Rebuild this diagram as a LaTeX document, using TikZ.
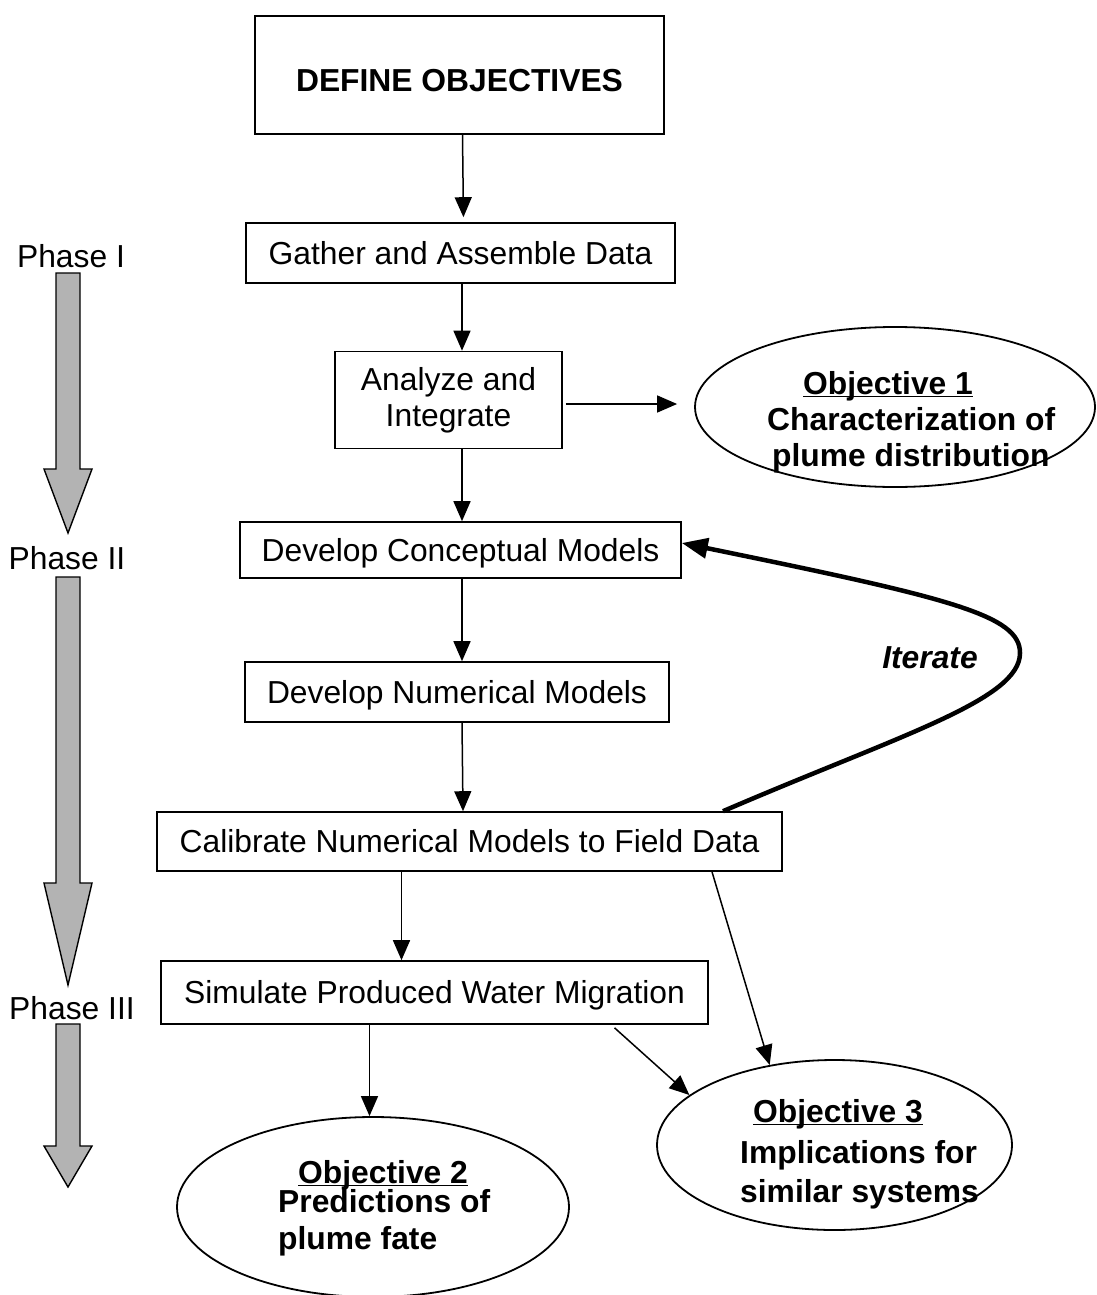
\documentclass[tikz,border=0pt]{standalone}
\usepackage{fontspec}
\setmainfont{Liberation Sans}
\usetikzlibrary{arrows.meta,shapes.geometric}
\definecolor{phasegray}{RGB}{179,179,179}
\begin{document}
\begin{tikzpicture}[x=1pt,y=-1pt,
  font=\fontsize{31.8pt}{36pt}\selectfont,
  frame/.style={draw, line width=1.6pt, inner sep=0pt},
  box/.style={frame, text height=22.8pt, text depth=0pt},
  obj/.style={draw, ellipse, line width=1.8pt, inner sep=0pt},
  objtext/.style={font=\fontsize{31.8pt}{36pt}\selectfont\bfseries, align=left, inner sep=0pt, anchor=north west},
  arr/.style={line width=1.5pt, -{Triangle[length=20pt,width=17pt]}},
  bigarr/.style={line width=4.5pt, -{Triangle[length=26pt,width=20pt]}},
  phasearrow/.style={draw, line width=1.4pt, fill=phasegray, line join=miter},
  phaselab/.style={anchor=base, inner sep=0pt}]
\useasboundingbox (0,0) rectangle (1097,1295);

% boxes
\node[box, minimum width=409pt, minimum height=118pt, text height=34pt,
      font=\fontsize{31.8pt}{36pt}\selectfont\bfseries] (def) at (459.5,75) {DEFINE OBJECTIVES};
\node[box, minimum width=429pt, minimum height=60pt] (gather) at (460.5,253) {Gather and Assemble Data};
\node[frame, minimum width=227pt, minimum height=97pt, align=center] (analyze) at (448.5,400) {Analyze and\\Integrate};
\node[box, minimum width=441pt, minimum height=56pt] (concept) at (460.5,550) {Develop Conceptual Models};
\node[box, minimum width=424pt, minimum height=60pt] (numer) at (457,692) {Develop Numerical Models};
\node[box, minimum width=625pt, minimum height=59pt] (calib) at (469.5,841.5) {Calibrate Numerical Models to Field Data};
\node[box, minimum width=547pt, minimum height=63pt] (simul) at (434.5,992.5) {Simulate Produced Water Migration};

% objectives
\node[obj, minimum width=400pt, minimum height=160pt] (obj1) at (895,407) {};
\node[objtext] (obj1t) at (767,394.4) {\hspace*{36pt}\underline{\smash{Objective 1}}\\Characterization of\\\hspace*{5pt}plume distribution};
\node[obj, minimum width=392pt, minimum height=180pt] (obj2) at (373,1207) {};
\node[objtext] (obj2t) at (278,1183.4) {\hspace*{20pt}\underline{\smash{Objective 2}}\\[-7pt]Predictions of\\[1pt]plume fate};
\node[obj, minimum width=355pt, minimum height=170pt] (obj3) at (834.5,1145) {};
\node[objtext] (obj3t) at (740,1122.4) {\hspace*{13pt}\underline{\smash{Objective 3}}\\[5pt]Implications for\\[3pt]similar systems};

% iterate label
\node[inner sep=0pt, text height=22.8pt, text depth=0pt,
      font=\fontsize{31.8pt}{36pt}\selectfont\bfseries\itshape] (iter) at (930,657) {Iterate};

% phase labels
\node[phaselab] (ph1) at (71,267.4) {Phase I};
\node[phaselab] (ph2) at (67,569.4) {Phase II};
\node[phaselab] (ph3) at (72,1019) {Phase III};

% phase block arrows
\draw[phasearrow] (56,273) -- (80,273) -- (80,469) -- (92,469) -- (68,533) -- (44,469) -- (56,469) -- cycle;
\draw[phasearrow] (56,577) -- (80,577) -- (80,883) -- (92,883) -- (68,985) -- (44,883) -- (56,883) -- cycle;
\draw[phasearrow] (56,1024) -- (80,1024) -- (80,1146) -- (92,1146) -- (68,1187) -- (44,1146) -- (56,1146) -- cycle;

% connectors
\draw[arr, shorten >=5pt] ([xshift=2pt]gather.north |- def.south) -- ([xshift=3pt]gather.north);
\draw[arr] ([xshift=1.5pt]gather.south) -- ([xshift=1.5pt]gather.south |- analyze.north);
\draw[arr] ([xshift=1.5pt]concept.north |- analyze.south) -- ([xshift=1.5pt]concept.north);
\draw[arr] ([xshift=1.5pt]concept.south) -- ([xshift=1.5pt]concept.south |- numer.north);
\draw[arr] ([xshift=1.5pt]concept.south |- numer.south) -- ([xshift=2.5pt]concept.south |- calib.north);
\draw[arr] ([xshift=3pt,yshift=-4pt]analyze.east) -- ([xshift=-17pt,yshift=3pt]obj1.west);
\draw[arr] ([xshift=-68pt]calib.south) -- ([xshift=-68pt]calib.south |- simul.north);
\draw[arr] ([xshift=242.5pt]calib.south) -- (obj3.129);
\draw[arr] ([xshift=-65pt]simul.south) -- ([xshift=-65pt]simul.south |- obj2.north);
\draw[arr] ([xshift=180pt,yshift=-3pt]simul.south) -- (obj3.161);
\draw[bigarr] ([xshift=253.5pt]calib.north)
   .. controls (900,735) and (1020,700) .. (1020,653)
   .. controls (1020,615) and (950,598) .. ([yshift=7pt]concept.east);
\end{tikzpicture}
\end{document}
